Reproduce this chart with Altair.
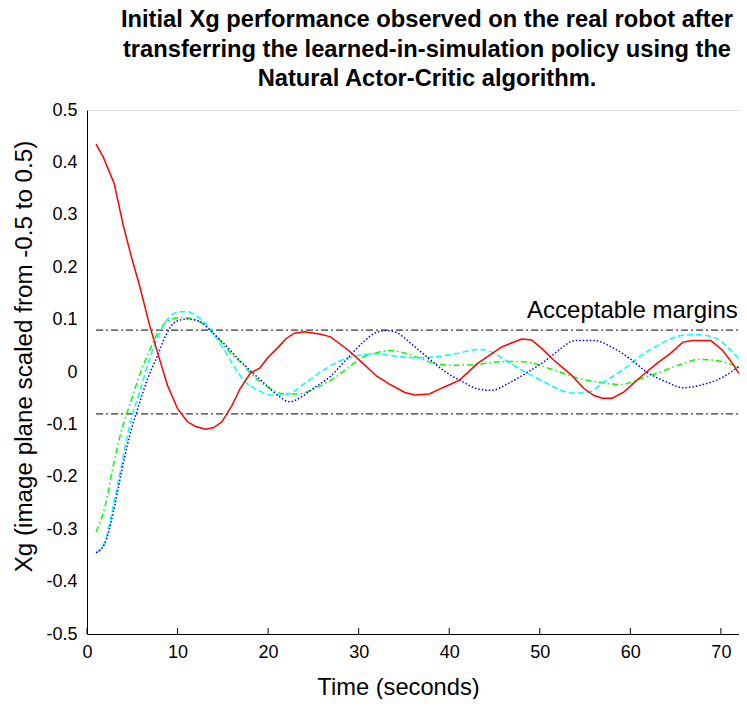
import altair as alt
import pandas as pd

FONT = "Liberation Sans"

# ---- data ----
red_t = [1, 1.8, 3.0, 4.0, 4.9, 5.8, 6.9, 8.0, 8.9, 10.0, 11.1, 12.0, 13.1, 14.0, 14.9, 16.0, 16.9,
         18.0, 19.1, 20.0, 21.1, 22.0, 22.9, 24.0, 25.8, 26.9, 28.9, 30.5, 32.0, 33.4, 35.1, 36.2,
         37.8, 39.4, 41.1, 43.1, 45.8, 48.0, 49.1, 50.2, 51.6, 53.5, 54.9, 56.0, 56.9, 58.0, 59.3,
         61.1, 62.9, 64.4, 65.8, 66.9, 68.9, 70.2, 71.3, 72]
red_y = [0.435, 0.41, 0.36, 0.28, 0.22, 0.165, 0.09, 0.025, -0.026, -0.07, -0.095, -0.104, -0.109,
         -0.106, -0.095, -0.064, -0.032, -0.003, 0.008, 0.028, 0.047, 0.064, 0.074, 0.077, 0.072,
         0.067, 0.041, 0.016, -0.008, -0.023, -0.039, -0.044, -0.042, -0.029, -0.016, 0.016, 0.048,
         0.063, 0.061, 0.045, 0.022, -0.006, -0.032, -0.045, -0.05, -0.05, -0.038, -0.01, 0.016,
         0.035, 0.057, 0.06, 0.06, 0.041, 0.016, -0.003]

blue_t = [1, 2, 2.9, 3.8, 4.7, 5.6, 6.7, 7.8, 8.7, 9.8, 11.0, 12.4, 13.8, 15.3, 16.7, 18.2, 19.6,
          21.1, 22.4, 23.6, 25.1, 26.9, 28.7, 30.5, 32.0, 33.1, 34.2, 36.0, 37.8, 39.6, 41.5, 43.1,
          44.7, 46.5, 48.7, 50.5, 51.6, 54.0, 56.0, 58.2, 60.0, 61.8, 64.0, 65.8, 68.0, 70.2, 72]
blue_y = [-0.345, -0.326, -0.268, -0.192, -0.122, -0.07, -0.013, 0.032, 0.07, 0.096, 0.101, 0.097,
          0.076, 0.051, 0.025, 0.0, -0.022, -0.045, -0.057, -0.048, -0.03, -0.008, 0.025, 0.057,
          0.076, 0.079, 0.075, 0.051, 0.025, 0.0, -0.019, -0.032, -0.035, -0.022, 0.0, 0.02, 0.035,
          0.06, 0.06, 0.045, 0.025, 0.0, -0.019, -0.03, -0.024, -0.01, 0.011]

cyan_t = [1, 2, 2.9, 3.8, 4.7, 5.8, 6.9, 8.0, 9.1, 10.2, 11.1, 12.0, 13.1, 14.2, 15.3, 16.4, 17.5,
          18.9, 20.4, 22.2, 24.0, 25.8, 28.0, 30.5, 32.0, 34.2, 36.4, 38.5, 40.7, 43.3, 44.7, 46.5,
          48.7, 50.5, 51.6, 53.5, 55.3, 57.1, 59.3, 61.5, 63.7, 65.8, 67.6, 69.5, 70.9, 72]
cyan_y = [-0.345, -0.323, -0.255, -0.179, -0.102, -0.039, 0.025, 0.073, 0.105, 0.115, 0.115, 0.108,
          0.093, 0.067, 0.038, 0.006, -0.019, -0.035, -0.044, -0.042, -0.022, 0.0, 0.022, 0.033,
          0.035, 0.03, 0.027, 0.029, 0.035, 0.043, 0.038, 0.019, -0.003, -0.019, -0.029, -0.04,
          -0.039, -0.019, 0.006, 0.035, 0.057, 0.07, 0.071, 0.064, 0.045, 0.025]

green_t = [1, 2, 2.9, 3.8, 4.7, 5.8, 6.9, 8.0, 9.3, 10.4, 11.6, 12.7, 14.2, 15.6, 17.1, 18.5, 20.0,
           21.8, 23.3, 25.1, 26.9, 28.6, 30.5, 32.0, 33.5, 34.9, 36.7, 38.5, 40.7, 42.9, 45.1, 47.3,
           48.7, 50.5, 52.7, 54.5, 56.7, 58.9, 61.1, 63.3, 65.5, 67.6, 69.5, 70.9, 72]
green_y = [-0.305, -0.256, -0.179, -0.112, -0.064, -0.006, 0.041, 0.08, 0.101, 0.104, 0.102, 0.093,
           0.07, 0.041, 0.016, -0.01, -0.029, -0.042, -0.042, -0.032, -0.016, 0.005, 0.029, 0.037,
           0.041, 0.037, 0.027, 0.016, 0.013, 0.014, 0.019, 0.02, 0.019, 0.01, -0.003, -0.013, -0.02,
           -0.024, -0.013, 0.0, 0.014, 0.024, 0.022, 0.016, 0.009]

margin_levels = [0.08, -0.08]
margin_start, margin_end = 1, 72
x_ticks = [0, 10, 20, 30, 40, 50, 60, 70]
y_ticks = [0.5, 0.4, 0.3, 0.2, 0.1, 0, -0.1, -0.2, -0.3, -0.4, -0.5]

# ---- chart ----
PLOT_W, PLOT_H = 652, 524
xs = alt.Scale(domain=[0, 72], nice=False, zero=False)
ys = alt.Scale(domain=[-0.5, 0.5], nice=False, zero=False)

MINUS_FIX = "replace(datum.label, '\u2212', '-')"

x_axis = alt.Axis(values=x_ticks, grid=False, ticks=False, labelFontSize=18, labelFont=FONT,
                  labelColor="black", labelPadding=9, domainColor="black", domainWidth=1,
                  title="Time (seconds)", titleFont=FONT, titleFontSize=23.7, titleFontWeight="normal",
                  titleColor="black", titleX=311, titleY=60, titleBaseline="alphabetic",
                  titleAlign="center", labelFlush=False)
y_axis = alt.Axis(values=y_ticks, grid=False, ticks=False, labelFontSize=18, labelFont=FONT,
                  labelColor="black", labelPadding=10, domainColor="black", domainWidth=1,
                  format="~g", labelExpr=MINUS_FIX,
                  title="Xg (image plane scaled from -0.5 to 0.5)", titleFont=FONT,
                  titleFontSize=24.2, titleFontWeight="normal", titleColor="black",
                  titleX=-56, titleY=246, titleBaseline="alphabetic", titleAlign="center",
                  titleAngle=-90, labelFlush=False)


def series(t, y, color, dash, interp):
    df = pd.DataFrame({"t": t, "y": y})
    kw = dict(color=color, strokeWidth=1.5, interpolate=interp, clip=True)
    if dash:
        kw["strokeDash"] = dash
    return alt.Chart(df).mark_line(**kw).encode(
        x=alt.X("t:Q", scale=xs, axis=x_axis),
        y=alt.Y("y:Q", scale=ys, axis=y_axis),
    )


margins_df = pd.DataFrame({"y": margin_levels, "x": [margin_start] * 2, "x2": [margin_end] * 2})
margins = alt.Chart(margins_df).mark_rule(color="black", strokeWidth=1, strokeDash=[7, 3, 2, 3]).encode(
    x=alt.X("x:Q", scale=xs), x2="x2:Q", y=alt.Y("y:Q", scale=ys)
)

ticks_df = pd.DataFrame({"t": x_ticks})
ticks = alt.Chart(ticks_df).mark_rule(color="black", strokeWidth=1).encode(
    x=alt.X("t:Q", scale=xs), y=alt.value(PLOT_H), y2=alt.value(PLOT_H - 6)
)

label_df = pd.DataFrame({"t": [48.6], "y": [0.116], "text": ["Acceptable margins"]})
label = alt.Chart(label_df).mark_text(align="left", baseline="middle", font=FONT, fontSize=24,
                                      color="black").encode(
    x=alt.X("t:Q", scale=xs), y=alt.Y("y:Q", scale=ys), text="text:N"
)

chart = alt.layer(
    margins,
    series(green_t, green_y, "#00ff00", [6, 3, 1.5, 3], "monotone"),
    series(cyan_t, cyan_y, "#00ffff", [6, 3], "monotone"),
    series(blue_t, blue_y, "#0000ff", [1.5, 2], "monotone"),
    series(red_t, red_y, "#ff0000", None, "linear"),
    ticks,
    label,
).properties(
    width=PLOT_W,
    height=PLOT_H,
    padding={"left": 79, "top": 102, "right": 0, "bottom": 65},
    autosize=alt.AutoSizeParams(type="none"),
    title=alt.TitleParams(
        text=["Initial Xg performance observed on the real robot after",
              "transferring the learned-in-simulation policy using the",
              "Natural Actor-Critic algorithm."],
        font=FONT, fontSize=23.7, fontWeight="bold", color="black", lineHeight=29.5,
        anchor="middle", dx=14, offset=10,
    ),
).configure_view(stroke=None).configure(background="white")

chart.save("out.html", embed_options={"renderer": "svg", "actions": False})
